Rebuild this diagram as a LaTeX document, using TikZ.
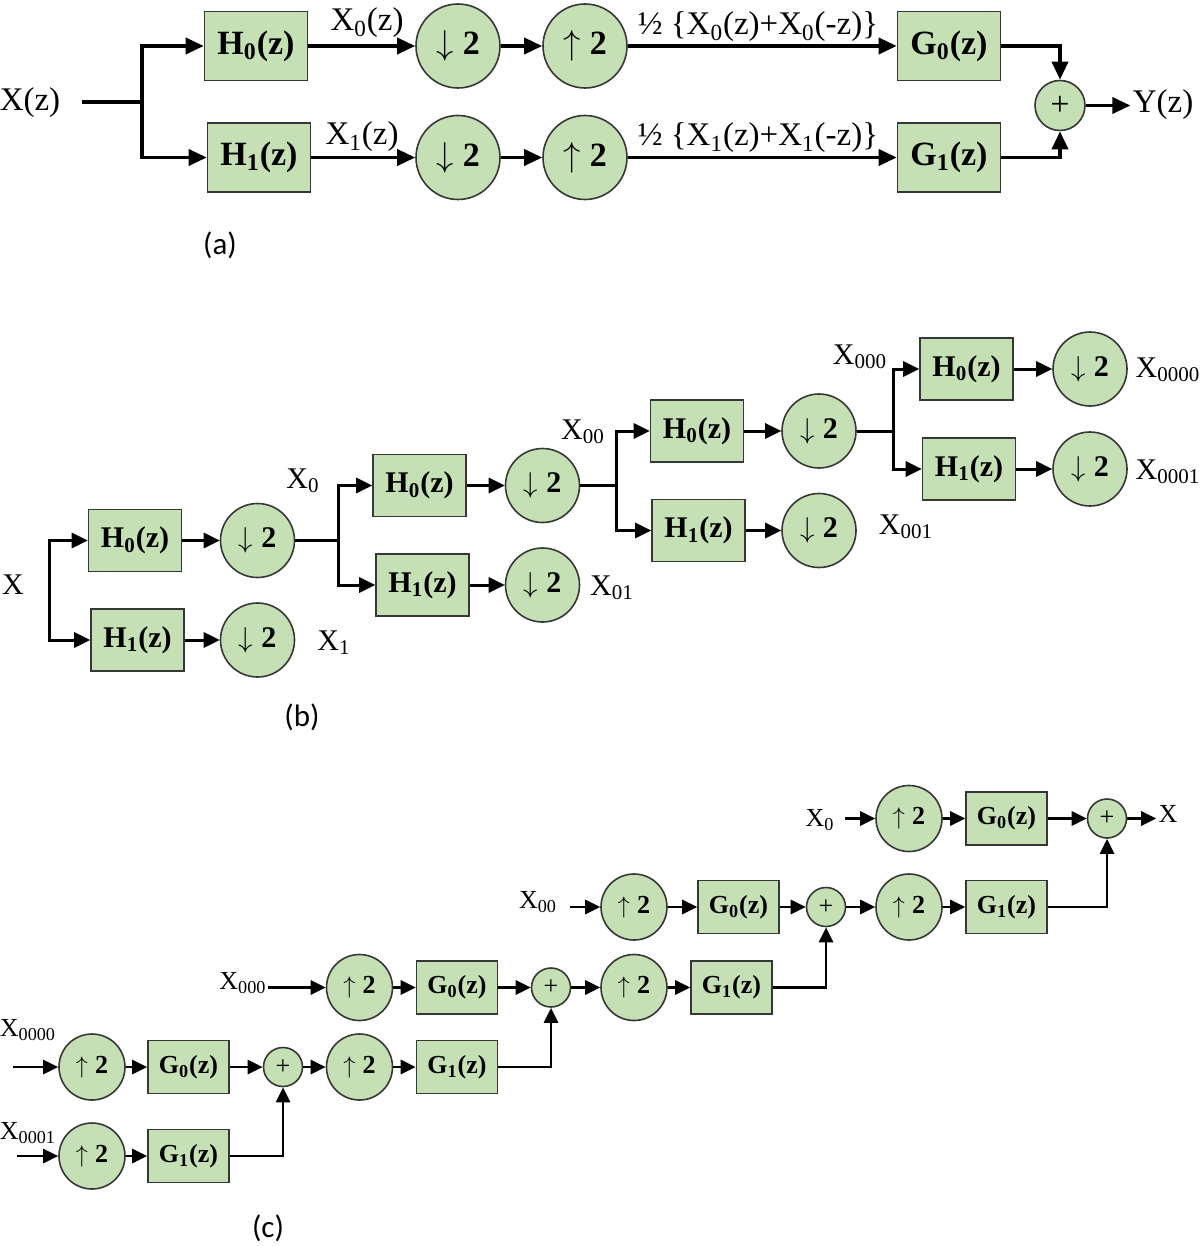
\documentclass[tikz,border=0pt]{standalone}
\usepackage{fontspec}
\setmainfont{Liberation Serif}
\newfontfamily\capfont{Carlito}
\usetikzlibrary{arrows.meta}
\definecolor{boxgreen}{RGB}{197,224,180}
\definecolor{edgegray}{RGB}{55,55,55}
\newcommand\fsA{\fontsize{17}{19}\selectfont}
\newcommand\fsAl{\fontsize{16.5}{18}\selectfont}
\newcommand\fsB{\fontsize{15}{17}\selectfont}
\newcommand\fsC{\fontsize{13}{15}\selectfont}
\newcommand\dn{$\downarrow$\hspace{0.28em}2}
\newcommand\upt{$\uparrow$\hspace{0.28em}2}
\tikzset{
 blk/.style={draw=edgegray, line width=0.8pt, fill=boxgreen, inner sep=0pt},
 boxA/.style={blk, minimum width=51.5pt, minimum height=34.5pt, font=\fsA\bfseries},
 cirA/.style={blk, circle, minimum size=42pt, font=\fsA\bfseries},
 sumA/.style={blk, circle, minimum size=25pt, font=\fsA},
 lblA/.style={inner sep=1pt, font=\fsAl},
 lnA/.style={line width=1.8pt},
 arA/.style={lnA, -{Triangle[length=9pt,width=8pt]}},
 boxB/.style={blk, minimum width=46.5pt, minimum height=31pt, font=\fsB\bfseries},
 cirB/.style={blk, circle, minimum size=37pt, font=\fsB\bfseries},
 lblB/.style={inner sep=1pt, font=\fsB},
 lnB/.style={line width=1.5pt},
 arB/.style={lnB, -{Triangle[length=8pt,width=7.5pt]}},
 boxC/.style={blk, minimum width=40.5pt, minimum height=26.5pt, font=\fsC\bfseries},
 cirC/.style={blk, circle, minimum size=33pt, font=\fsC\bfseries},
 sumC/.style={blk, circle, minimum size=19.5pt, font=\fsC},
 lblC/.style={inner sep=1pt, font=\fsC},
 lnC/.style={line width=1.4pt},
 arC/.style={lnC, -{Triangle[length=7.5pt,width=7pt]}},
 panelcap/.style={inner sep=0pt, font=\capfont\fontsize{15.5}{17}\selectfont}
}
\begin{document}
\begin{tikzpicture}[x=0.5pt,y=-0.5pt]
\useasboundingbox (0,0) rectangle (1200,1246);
% ---------------- (a) ----------------
\node[lblA] (xa) at (30,103) {X(z)};
\coordinate (ina) at (82,102);
\coordinate (ba) at (142,102);
\node[boxA] (H0a) at (256,46) {H\textsubscript{0}(z)};
\node[boxA] (H1a) at (259,157.5) {H\textsubscript{1}(z)};
\node[cirA] (D0a) at (458,46) {\dn};
\node[cirA] (D1a) at (458,157.5) {\dn};
\node[cirA] (U0a) at (585,46) {\upt};
\node[cirA] (U1a) at (585,157.5) {\upt};
\node[boxA] (G0a) at (949,46) {G\textsubscript{0}(z)};
\node[boxA] (G1a) at (949,157.5) {G\textsubscript{1}(z)};
\node[sumA] (Sa) at (1060,105.5) {+};
\node[lblA] (Ya) at (1163,105) {Y(z)};
\node[lblA] (x0a) at (367,23) {X\textsubscript{0}(z)};
\node[lblA] (x1a) at (362,137) {X\textsubscript{1}(z)};
\node[lblA] (s0a) at (758,27) {½ \{X\textsubscript{0}(z)+X\textsubscript{0}(-z)\}};
\node[lblA] (s1a) at (758,138) {½ \{X\textsubscript{1}(z)+X\textsubscript{1}(-z)\}};
\node[panelcap] (capa) at (220,245) {(a)};
\draw[lnA] (ina) -- (ba);
\draw[arA] (ba) |- (H0a.west);
\draw[arA] (ba) |- (H1a.west);
\draw[arA] (H0a.east) -- (D0a.west);
\draw[arA] (H1a.east) -- (D1a.west);
\draw[arA] (D0a.east) -- (U0a.west);
\draw[arA] (D1a.east) -- (U1a.west);
\draw[arA] (U0a.east) -- (G0a.west);
\draw[arA] (U1a.east) -- (G1a.west);
\draw[arA] (G0a.east) -| (Sa.north);
\draw[arA] (G1a.east) -| (Sa.south);
\draw[arA] (Sa.east) -- (Sa.east -| Ya.west);
% ---------------- (b) ----------------
\node[lblB] (xb) at (13,585) {X};
\coordinate (bb1) at (49,590);
\node[boxB] (H0b) at (135,540.5) {H\textsubscript{0}(z)};
\node[boxB] (H1b) at (137.5,640) {H\textsubscript{1}(z)};
\node[cirB] (D0b) at (257.5,540.5) {\dn};
\node[cirB] (D1b) at (257.5,640) {\dn};
\node[lblB] (x1b) at (334,643) {X\textsubscript{1}};
\coordinate (bb2) at (338,540.5);
\node[lblB] (x0b) at (303,481) {X\textsubscript{0}};
\node[boxB] (H00b) at (419.5,485.5) {H\textsubscript{0}(z)};
\node[boxB] (H01b) at (422.5,585) {H\textsubscript{1}(z)};
\node[cirB] (D00b) at (542.5,485.5) {\dn};
\node[cirB] (D01b) at (542.5,585) {\dn};
\node[lblB] (x01b) at (612,588) {X\textsubscript{01}};
\coordinate (bb3) at (616,485.5);
\node[lblB] (x00b) at (583,432) {X\textsubscript{00}};
\node[boxB] (H000b) at (697,431) {H\textsubscript{0}(z)};
\node[boxB] (H001b) at (698.5,530.5) {H\textsubscript{1}(z)};
\node[cirB] (D000b) at (819,431) {\dn};
\node[cirB] (D001b) at (819,530.5) {\dn};
\node[lblB] (x001b) at (906,527) {X\textsubscript{001}};
\coordinate (bb4) at (893,431);
\node[lblB] (x000b) at (860,357) {X\textsubscript{000}};
\node[boxB] (H0000b) at (966.5,369) {H\textsubscript{0}(z)};
\node[boxB] (H0001b) at (969,469) {H\textsubscript{1}(z)};
\node[cirB] (D0000b) at (1090,369) {\dn};
\node[cirB] (D0001b) at (1090,469) {\dn};
\node[lblB] (x0000b) at (1168,370) {X\textsubscript{0000}};
\node[lblB] (x0001b) at (1168,472) {X\textsubscript{0001}};
\node[panelcap] (capb) at (302,717) {(b)};
\draw[arB] (bb1) |- (H0b.west);
\draw[arB] (bb1) |- (H1b.west);
\draw[arB] (H0b.east) -- (D0b.west);
\draw[arB] (H1b.east) -- (D1b.west);
\draw[lnB] (D0b.east) -- (bb2);
\draw[arB] (bb2) |- (H00b.west);
\draw[arB] (bb2) |- (H01b.west);
\draw[arB] (H00b.east) -- (D00b.west);
\draw[arB] (H01b.east) -- (D01b.west);
\draw[lnB] (D00b.east) -- (bb3);
\draw[arB] (bb3) |- (H000b.west);
\draw[arB] (bb3) |- (H001b.west);
\draw[arB] (H000b.east) -- (D000b.west);
\draw[arB] (H001b.east) -- (D001b.west);
\draw[lnB] (D000b.east) -- (bb4);
\draw[arB] (bb4) |- (H0000b.west);
\draw[arB] (bb4) |- (H0001b.west);
\draw[arB] (H0000b.east) -- (D0000b.west);
\draw[arB] (H0001b.east) -- (D0001b.west);
% ---------------- (c) ----------------
\node[lblC] (x0000c) at (28,1030) {X\textsubscript{0000}};
\coordinate (in4c) at (13,1067);
\node[cirC] (U40c) at (92,1067) {\upt};
\node[boxC] (G40c) at (188.5,1067) {G\textsubscript{0}(z)};
\node[sumC] (S1c) at (283,1067) {+};
\node[cirC] (U31c) at (359.5,1067) {\upt};
\node[boxC] (G31c) at (457,1067) {G\textsubscript{1}(z)};
\node[lblC] (x0001c) at (28,1133) {X\textsubscript{0001}};
\coordinate (in41c) at (17,1156);
\node[cirC] (U41c) at (92,1156) {\upt};
\node[boxC] (G41c) at (188.5,1156) {G\textsubscript{1}(z)};
\node[lblC] (x000c) at (243,983) {X\textsubscript{000}};
\coordinate (in3c) at (268,987.5);
\node[cirC] (U30c) at (359.5,987.5) {\upt};
\node[boxC] (G30c) at (457,987.5) {G\textsubscript{0}(z)};
\node[sumC] (S2c) at (551,987.5) {+};
\node[cirC] (U21c) at (634,987.5) {\upt};
\node[boxC] (G21c) at (731.5,987.5) {G\textsubscript{1}(z)};
\node[lblC] (x00c) at (538,902) {X\textsubscript{00}};
\coordinate (in2c) at (570,907);
\node[cirC] (U20c) at (634,907) {\upt};
\node[boxC] (G20c) at (738.5,907) {G\textsubscript{0}(z)};
\node[sumC] (S3c) at (826,907) {+};
\node[cirC] (U11c) at (909,907) {\upt};
\node[boxC] (G11c) at (1006.5,907) {G\textsubscript{1}(z)};
\node[lblC] (x0c) at (820,820) {X\textsubscript{0}};
\coordinate (in1c) at (845,818.5);
\node[cirC] (U10c) at (909,818.5) {\upt};
\node[boxC] (G10c) at (1006.5,818.5) {G\textsubscript{0}(z)};
\node[sumC] (S4c) at (1107,818.5) {+};
\node[lblC] (xc) at (1168,814) {X};
\node[panelcap] (capc) at (268,1228) {(c)};
\draw[arC] (in4c) -- (U40c.west);
\draw[arC] (U40c.east) -- (G40c.west);
\draw[arC] (G40c.east) -- (S1c.west);
\draw[arC] (S1c.east) -- (U31c.west);
\draw[arC] (U31c.east) -- (G31c.west);
\draw[arC] (G31c.east) -| (S2c.south);
\draw[arC] (in41c) -- (U41c.west);
\draw[arC] (U41c.east) -- (G41c.west);
\draw[arC] (G41c.east) -| (S1c.south);
\draw[arC] (in3c) -- (U30c.west);
\draw[arC] (U30c.east) -- (G30c.west);
\draw[arC] (G30c.east) -- (S2c.west);
\draw[arC] (S2c.east) -- (U21c.west);
\draw[arC] (U21c.east) -- (G21c.west);
\draw[arC] (G21c.east) -| (S3c.south);
\draw[arC] (in2c) -- (U20c.west);
\draw[arC] (U20c.east) -- (G20c.west);
\draw[arC] (G20c.east) -- (S3c.west);
\draw[arC] (S3c.east) -- (U11c.west);
\draw[arC] (U11c.east) -- (G11c.west);
\draw[arC] (G11c.east) -| (S4c.south);
\draw[arC] (in1c) -- (U10c.west);
\draw[arC] (U10c.east) -- (G10c.west);
\draw[arC] (G10c.east) -- (S4c.west);
\draw[arC] (S4c.east) -- (S4c.east -| xc.west);
\end{tikzpicture}
\end{document}
